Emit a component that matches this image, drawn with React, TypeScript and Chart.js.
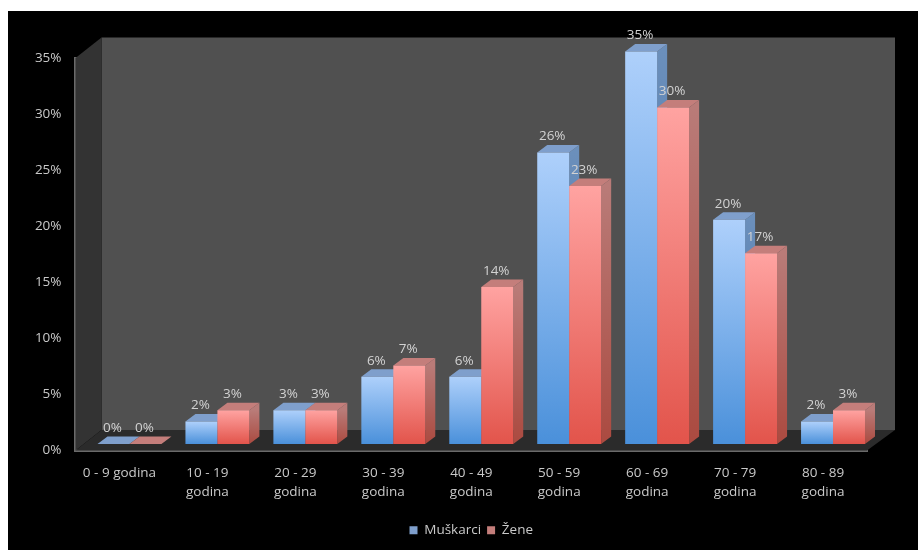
import React, { useEffect, useRef } from "react";
import { Chart, registerables } from "chart.js";

Chart.register(...registerables);

const categories: (string | string[])[] = [
  "0 - 9 godina",
  ["10 - 19", "godina"],
  ["20 - 29", "godina"],
  ["30 - 39", "godina"],
  ["40 - 49", "godina"],
  ["50 - 59", "godina"],
  ["60 - 69", "godina"],
  ["70 - 79", "godina"],
  ["80 - 89", "godina"],
];
const muskarci = [0, 2, 3, 6, 6, 26, 35, 20, 2];
const zene = [0, 3, 3, 7, 14, 23, 30, 17, 3];

const FONT = "'Open Sans', sans-serif";
const TEXT = "#c9c9c9";
const BAR_DX = 10;
const BAR_DY = -6.5;
const DEPTH_X = 10;
const DEPTH_Y = -7.5;

const palette = [
  { light: "#aed0fb", dark: "#4a90da", legend: "#5b9be0", side: "#6b8fbb", sideDark: "#3e6fa8", top: "#7f9fcc" },
  { light: "#ffa3a1", dark: "#e2544b", legend: "#e66a62", side: "#b97b78", sideDark: "#ab4a40", top: "#c47e7b" },
];

function poly(ctx: CanvasRenderingContext2D, pts: number[][], fill: string | CanvasGradient) {
  ctx.beginPath();
  pts.forEach((p, i) => (i ? ctx.lineTo(p[0], p[1]) : ctx.moveTo(p[0], p[1])));
  ctx.closePath();
  ctx.fillStyle = fill;
  ctx.fill();
}

const box3d = {
  id: "box3d",
  beforeDatasetsDraw(chart: any) {
    const { ctx, chartArea: a } = chart;
    const backDx = 26;
    const backDy = -20.5;
    ctx.save();
    poly(ctx, [[a.left + backDx, a.top + backDy], [a.right + backDx + 2, a.top + backDy], [a.right + backDx + 2, a.bottom + backDy], [a.left + backDx, a.bottom + backDy]], "#505050");
    poly(ctx, [[a.left, a.top], [a.left + backDx, a.top + backDy], [a.left + backDx, a.bottom + backDy], [a.left, a.bottom]], "#333333");
    poly(ctx, [[a.left, a.bottom], [a.left + backDx, a.bottom + backDy], [a.right + backDx + 2, a.bottom + backDy], [a.right, a.bottom]], "#2b2b2b");

    // Bars are painted here so that the first series sits behind the second.
    ctx.translate(BAR_DX, BAR_DY);
    chart.data.datasets.forEach((_: any, i: number) => {
      const c = palette[i];
      chart.getDatasetMeta(i).data.forEach((bar: any) => {
        const x0 = bar.x - bar.width / 2;
        const x1 = bar.x + bar.width / 2;
        const y = bar.y;
        const b = bar.base;
        if (b - y > 0.5) {
          const g = ctx.createLinearGradient(0, y, 0, b);
          g.addColorStop(0, c.side);
          g.addColorStop(1, c.sideDark);
          poly(ctx, [[x1, y], [x1 + DEPTH_X, y + DEPTH_Y], [x1 + DEPTH_X, b + DEPTH_Y], [x1, b]], g);
        }
        poly(ctx, [[x0, y], [x0 + DEPTH_X, y + DEPTH_Y], [x1 + DEPTH_X, y + DEPTH_Y], [x1, y]], c.top);
        bar.draw(ctx);
      });
    });
    ctx.restore();
  },
  beforeDatasetDraw() {
    return false;
  },
  afterDatasetsDraw(chart: any) {
    const { ctx } = chart;
    ctx.save();
    ctx.font = `13.5px ${FONT}`;
    ctx.fillStyle = "#d2d2d2";
    ctx.textAlign = "center";
    ctx.textBaseline = "middle";
    chart.data.datasets.forEach((ds: any, i: number) => {
      chart.getDatasetMeta(i).data.forEach((bar: any, j: number) => {
        ctx.fillText(`${ds.data[j]}%`, bar.x + BAR_DX - 1, bar.y + BAR_DY - 16);
      });
    });
    ctx.restore();
  },
};

function barFill(index: number) {
  return (context: any) => {
    const c = palette[index];
    if (context.type !== "data") return c.legend;
    const yScale = context.chart.scales.y;
    const top = yScale.getPixelForValue(context.raw);
    const base = yScale.getPixelForValue(0);
    if (base - top < 1) return c.top;
    const g = context.chart.ctx.createLinearGradient(0, top, 0, base);
    g.addColorStop(0, c.light);
    g.addColorStop(1, c.dark);
    return g;
  };
}

export default function App() {
  const ref = useRef<HTMLCanvasElement>(null);
  useEffect(() => {
    const chart = new Chart(ref.current as HTMLCanvasElement, {
      type: "bar",
      plugins: [box3d],
      data: {
        labels: categories,
        datasets: [
          { label: "Muškarci", data: muskarci, backgroundColor: barFill(0), borderWidth: 0 },
          { label: "Žene", data: zene, backgroundColor: barFill(1), borderWidth: 0 },
        ],
      } as any,
      options: {
        animation: false,
        responsive: false,
        devicePixelRatio: 1,
        layout: { padding: { top: 47, right: 51, bottom: 3, left: 0 } },
        datasets: { bar: { categoryPercentage: 0.727, barPercentage: 1 } },
        plugins: {
          tooltip: { enabled: false },
          legend: {
            position: "bottom",
            fullSize: false,
            labels: { boxWidth: 8, boxHeight: 8, padding: 6, color: TEXT, font: { family: FONT, size: 13.5 } },
          },
        },
        scales: {
          x: {
            grid: { display: false, drawTicks: false },
            border: { display: true, color: "#6a6a6a", width: 3 },
            ticks: { color: TEXT, padding: 13, maxRotation: 0, autoSkip: false, font: { family: FONT, size: 13.5, lineHeight: 1.4 } },
            afterFit: (s: any) => { s.height = 67; },
          },
          y: {
            min: 0,
            max: 35,
            grid: { display: false, drawTicks: false },
            border: { display: true, color: "#6a6a6a", width: 3 },
            ticks: { stepSize: 5, color: TEXT, padding: 14, font: { family: FONT, size: 13.5 }, callback: (v: any) => `${v}%` },
            afterFit: (s: any) => { s.width = 67.5; },
          },
        },
      },
    });
    return () => chart.destroy();
  }, []);
  return (
    <div style={{ position: "absolute", left: 8, top: 11, width: 910, height: 539, background: "#000", overflow: "hidden" }}>
      <canvas ref={ref} width={910} height={539} style={{ display: "block", filter: "blur(0.5px)" }} />
    </div>
  );
}
